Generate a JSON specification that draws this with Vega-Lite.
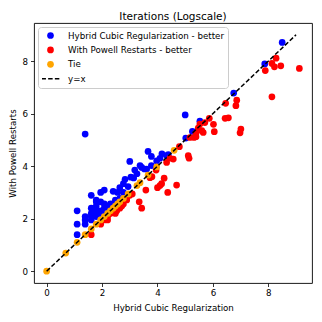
{
  "$schema": "https://vega.github.io/schema/vega-lite/v6.json",
  "autosize": "none",
  "width": 278,
  "height": 260,
  "padding": {"left": 34, "top": 23, "right": 10, "bottom": 39},
  "background": "white",
  "title": {"text": "Iterations (Logscale)", "fontSize": 10.5, "fontWeight": "normal", "font": "DejaVu Sans", "color": "black", "baseline": "bottom", "offset": 3, "frame": "group", "dy": 12},
  "config": {
    "view": {"stroke": "black", "strokeWidth": 0.9},
    "axis": {"domain": false, "grid": false, "ticks": true, "tickSize": 3.5, "tickColor": "black", "tickWidth": 0.8, "labelFont": "DejaVu Sans", "labelFontSize": 8.7, "labelColor": "black", "titleFont": "DejaVu Sans", "titleFontSize": 8.7, "titleFontWeight": "normal", "titleColor": "black"},
    "legend": {"labelFont": "DejaVu Sans", "labelFontSize": 8.7, "labelColor": "black"}
  },
  "datasets": {
    "points": [
      {"hybrid": 1.10, "powell": 1.39, "result": "Hybrid Cubic Regularization - better"},
      {"hybrid": 1.10, "powell": 1.79, "result": "Hybrid Cubic Regularization - better"},
      {"hybrid": 1.10, "powell": 2.30, "result": "Hybrid Cubic Regularization - better"},
      {"hybrid": 1.39, "powell": 1.79, "result": "Hybrid Cubic Regularization - better"},
      {"hybrid": 1.39, "powell": 1.95, "result": "Hybrid Cubic Regularization - better"},
      {"hybrid": 1.39, "powell": 2.08, "result": "Hybrid Cubic Regularization - better"},
      {"hybrid": 1.39, "powell": 5.22, "result": "Hybrid Cubic Regularization - better"},
      {"hybrid": 1.61, "powell": 1.95, "result": "Hybrid Cubic Regularization - better"},
      {"hybrid": 1.61, "powell": 2.08, "result": "Hybrid Cubic Regularization - better"},
      {"hybrid": 1.61, "powell": 2.20, "result": "Hybrid Cubic Regularization - better"},
      {"hybrid": 1.61, "powell": 2.40, "result": "Hybrid Cubic Regularization - better"},
      {"hybrid": 1.61, "powell": 2.89, "result": "Hybrid Cubic Regularization - better"},
      {"hybrid": 1.79, "powell": 2.08, "result": "Hybrid Cubic Regularization - better"},
      {"hybrid": 1.79, "powell": 2.20, "result": "Hybrid Cubic Regularization - better"},
      {"hybrid": 1.79, "powell": 2.30, "result": "Hybrid Cubic Regularization - better"},
      {"hybrid": 1.79, "powell": 2.48, "result": "Hybrid Cubic Regularization - better"},
      {"hybrid": 1.79, "powell": 2.64, "result": "Hybrid Cubic Regularization - better"},
      {"hybrid": 1.79, "powell": 2.71, "result": "Hybrid Cubic Regularization - better"},
      {"hybrid": 1.95, "powell": 2.20, "result": "Hybrid Cubic Regularization - better"},
      {"hybrid": 1.95, "powell": 2.30, "result": "Hybrid Cubic Regularization - better"},
      {"hybrid": 1.95, "powell": 2.64, "result": "Hybrid Cubic Regularization - better"},
      {"hybrid": 1.95, "powell": 3.00, "result": "Hybrid Cubic Regularization - better"},
      {"hybrid": 2.08, "powell": 2.20, "result": "Hybrid Cubic Regularization - better"},
      {"hybrid": 2.08, "powell": 2.40, "result": "Hybrid Cubic Regularization - better"},
      {"hybrid": 2.08, "powell": 2.56, "result": "Hybrid Cubic Regularization - better"},
      {"hybrid": 2.08, "powell": 3.09, "result": "Hybrid Cubic Regularization - better"},
      {"hybrid": 2.20, "powell": 2.30, "result": "Hybrid Cubic Regularization - better"},
      {"hybrid": 2.20, "powell": 2.48, "result": "Hybrid Cubic Regularization - better"},
      {"hybrid": 2.30, "powell": 2.40, "result": "Hybrid Cubic Regularization - better"},
      {"hybrid": 2.30, "powell": 2.56, "result": "Hybrid Cubic Regularization - better"},
      {"hybrid": 2.40, "powell": 2.56, "result": "Hybrid Cubic Regularization - better"},
      {"hybrid": 2.40, "powell": 3.04, "result": "Hybrid Cubic Regularization - better"},
      {"hybrid": 2.48, "powell": 2.64, "result": "Hybrid Cubic Regularization - better"},
      {"hybrid": 2.48, "powell": 2.71, "result": "Hybrid Cubic Regularization - better"},
      {"hybrid": 2.56, "powell": 3.00, "result": "Hybrid Cubic Regularization - better"},
      {"hybrid": 2.64, "powell": 2.77, "result": "Hybrid Cubic Regularization - better"},
      {"hybrid": 2.64, "powell": 3.18, "result": "Hybrid Cubic Regularization - better"},
      {"hybrid": 2.77, "powell": 3.00, "result": "Hybrid Cubic Regularization - better"},
      {"hybrid": 2.77, "powell": 3.33, "result": "Hybrid Cubic Regularization - better"},
      {"hybrid": 2.83, "powell": 3.50, "result": "Hybrid Cubic Regularization - better"},
      {"hybrid": 2.94, "powell": 3.22, "result": "Hybrid Cubic Regularization - better"},
      {"hybrid": 3.00, "powell": 4.18, "result": "Hybrid Cubic Regularization - better"},
      {"hybrid": 3.04, "powell": 3.58, "result": "Hybrid Cubic Regularization - better"},
      {"hybrid": 3.14, "powell": 3.55, "result": "Hybrid Cubic Regularization - better"},
      {"hybrid": 3.18, "powell": 3.85, "result": "Hybrid Cubic Regularization - better"},
      {"hybrid": 3.26, "powell": 3.71, "result": "Hybrid Cubic Regularization - better"},
      {"hybrid": 3.37, "powell": 4.02, "result": "Hybrid Cubic Regularization - better"},
      {"hybrid": 3.43, "powell": 3.95, "result": "Hybrid Cubic Regularization - better"},
      {"hybrid": 3.53, "powell": 3.89, "result": "Hybrid Cubic Regularization - better"},
      {"hybrid": 3.61, "powell": 3.89, "result": "Hybrid Cubic Regularization - better"},
      {"hybrid": 3.66, "powell": 4.56, "result": "Hybrid Cubic Regularization - better"},
      {"hybrid": 3.78, "powell": 4.37, "result": "Hybrid Cubic Regularization - better"},
      {"hybrid": 3.78, "powell": 4.02, "result": "Hybrid Cubic Regularization - better"},
      {"hybrid": 3.97, "powell": 4.20, "result": "Hybrid Cubic Regularization - better"},
      {"hybrid": 4.09, "powell": 4.30, "result": "Hybrid Cubic Regularization - better"},
      {"hybrid": 4.16, "powell": 4.47, "result": "Hybrid Cubic Regularization - better"},
      {"hybrid": 4.33, "powell": 4.40, "result": "Hybrid Cubic Regularization - better"},
      {"hybrid": 4.39, "powell": 4.44, "result": "Hybrid Cubic Regularization - better"},
      {"hybrid": 5.00, "powell": 5.95, "result": "Hybrid Cubic Regularization - better"},
      {"hybrid": 5.02, "powell": 5.07, "result": "Hybrid Cubic Regularization - better"},
      {"hybrid": 5.26, "powell": 5.32, "result": "Hybrid Cubic Regularization - better"},
      {"hybrid": 5.53, "powell": 5.71, "result": "Hybrid Cubic Regularization - better"},
      {"hybrid": 6.75, "powell": 6.78, "result": "Hybrid Cubic Regularization - better"},
      {"hybrid": 7.87, "powell": 7.89, "result": "Hybrid Cubic Regularization - better"},
      {"hybrid": 8.50, "powell": 8.71, "result": "Hybrid Cubic Regularization - better"},
      {"hybrid": 1.61, "powell": 1.39, "result": "With Powell Restarts - better"},
      {"hybrid": 1.95, "powell": 1.79, "result": "With Powell Restarts - better"},
      {"hybrid": 2.08, "powell": 1.95, "result": "With Powell Restarts - better"},
      {"hybrid": 2.20, "powell": 1.95, "result": "With Powell Restarts - better"},
      {"hybrid": 2.20, "powell": 2.08, "result": "With Powell Restarts - better"},
      {"hybrid": 2.30, "powell": 2.20, "result": "With Powell Restarts - better"},
      {"hybrid": 2.40, "powell": 2.30, "result": "With Powell Restarts - better"},
      {"hybrid": 2.48, "powell": 2.20, "result": "With Powell Restarts - better"},
      {"hybrid": 2.53, "powell": 2.30, "result": "With Powell Restarts - better"},
      {"hybrid": 2.56, "powell": 2.48, "result": "With Powell Restarts - better"},
      {"hybrid": 2.64, "powell": 2.40, "result": "With Powell Restarts - better"},
      {"hybrid": 2.71, "powell": 2.48, "result": "With Powell Restarts - better"},
      {"hybrid": 2.77, "powell": 2.56, "result": "With Powell Restarts - better"},
      {"hybrid": 2.89, "powell": 2.71, "result": "With Powell Restarts - better"},
      {"hybrid": 2.89, "powell": 2.77, "result": "With Powell Restarts - better"},
      {"hybrid": 3.00, "powell": 2.89, "result": "With Powell Restarts - better"},
      {"hybrid": 3.09, "powell": 2.94, "result": "With Powell Restarts - better"},
      {"hybrid": 3.34, "powell": 2.64, "result": "With Powell Restarts - better"},
      {"hybrid": 3.43, "powell": 2.40, "result": "With Powell Restarts - better"},
      {"hybrid": 3.58, "powell": 3.09, "result": "With Powell Restarts - better"},
      {"hybrid": 3.73, "powell": 3.56, "result": "With Powell Restarts - better"},
      {"hybrid": 3.80, "powell": 3.60, "result": "With Powell Restarts - better"},
      {"hybrid": 3.95, "powell": 3.85, "result": "With Powell Restarts - better"},
      {"hybrid": 4.00, "powell": 3.18, "result": "With Powell Restarts - better"},
      {"hybrid": 4.09, "powell": 3.26, "result": "With Powell Restarts - better"},
      {"hybrid": 4.15, "powell": 3.33, "result": "With Powell Restarts - better"},
      {"hybrid": 4.24, "powell": 3.54, "result": "With Powell Restarts - better"},
      {"hybrid": 4.37, "powell": 3.00, "result": "With Powell Restarts - better"},
      {"hybrid": 4.69, "powell": 3.28, "result": "With Powell Restarts - better"},
      {"hybrid": 4.33, "powell": 4.14, "result": "With Powell Restarts - better"},
      {"hybrid": 4.45, "powell": 4.30, "result": "With Powell Restarts - better"},
      {"hybrid": 4.57, "powell": 4.27, "result": "With Powell Restarts - better"},
      {"hybrid": 4.79, "powell": 4.74, "result": "With Powell Restarts - better"},
      {"hybrid": 5.11, "powell": 4.40, "result": "With Powell Restarts - better"},
      {"hybrid": 5.14, "powell": 4.30, "result": "With Powell Restarts - better"},
      {"hybrid": 5.17, "powell": 5.09, "result": "With Powell Restarts - better"},
      {"hybrid": 5.32, "powell": 5.09, "result": "With Powell Restarts - better"},
      {"hybrid": 5.39, "powell": 5.12, "result": "With Powell Restarts - better"},
      {"hybrid": 5.39, "powell": 5.26, "result": "With Powell Restarts - better"},
      {"hybrid": 5.47, "powell": 5.45, "result": "With Powell Restarts - better"},
      {"hybrid": 5.53, "powell": 5.60, "result": "With Powell Restarts - better"},
      {"hybrid": 5.60, "powell": 5.35, "result": "With Powell Restarts - better"},
      {"hybrid": 5.65, "powell": 5.28, "result": "With Powell Restarts - better"},
      {"hybrid": 5.71, "powell": 5.66, "result": "With Powell Restarts - better"},
      {"hybrid": 5.87, "powell": 5.82, "result": "With Powell Restarts - better"},
      {"hybrid": 6.02, "powell": 5.59, "result": "With Powell Restarts - better"},
      {"hybrid": 6.05, "powell": 5.31, "result": "With Powell Restarts - better"},
      {"hybrid": 6.44, "powell": 5.82, "result": "With Powell Restarts - better"},
      {"hybrid": 6.56, "powell": 5.84, "result": "With Powell Restarts - better"},
      {"hybrid": 6.46, "powell": 6.39, "result": "With Powell Restarts - better"},
      {"hybrid": 6.83, "powell": 6.30, "result": "With Powell Restarts - better"},
      {"hybrid": 6.86, "powell": 6.51, "result": "With Powell Restarts - better"},
      {"hybrid": 6.98, "powell": 5.27, "result": "With Powell Restarts - better"},
      {"hybrid": 7.01, "powell": 5.41, "result": "With Powell Restarts - better"},
      {"hybrid": 7.89, "powell": 7.64, "result": "With Powell Restarts - better"},
      {"hybrid": 8.13, "powell": 7.91, "result": "With Powell Restarts - better"},
      {"hybrid": 8.22, "powell": 7.78, "result": "With Powell Restarts - better"},
      {"hybrid": 8.28, "powell": 8.11, "result": "With Powell Restarts - better"},
      {"hybrid": 8.45, "powell": 7.82, "result": "With Powell Restarts - better"},
      {"hybrid": 8.13, "powell": 6.64, "result": "With Powell Restarts - better"},
      {"hybrid": 9.12, "powell": 7.72, "result": "With Powell Restarts - better"},
      {"hybrid": 0.00, "powell": 0.00, "result": "Tie"},
      {"hybrid": 0.69, "powell": 0.69, "result": "Tie"},
      {"hybrid": 1.10, "powell": 1.10, "result": "Tie"},
      {"hybrid": 1.39, "powell": 1.39, "result": "Tie"},
      {"hybrid": 1.61, "powell": 1.61, "result": "Tie"},
      {"hybrid": 1.79, "powell": 1.79, "result": "Tie"},
      {"hybrid": 1.95, "powell": 1.95, "result": "Tie"},
      {"hybrid": 2.08, "powell": 2.08, "result": "Tie"},
      {"hybrid": 2.20, "powell": 2.20, "result": "Tie"},
      {"hybrid": 2.30, "powell": 2.30, "result": "Tie"},
      {"hybrid": 2.40, "powell": 2.40, "result": "Tie"},
      {"hybrid": 2.48, "powell": 2.48, "result": "Tie"},
      {"hybrid": 2.56, "powell": 2.56, "result": "Tie"},
      {"hybrid": 2.64, "powell": 2.64, "result": "Tie"},
      {"hybrid": 2.77, "powell": 2.77, "result": "Tie"},
      {"hybrid": 2.94, "powell": 2.94, "result": "Tie"},
      {"hybrid": 3.26, "powell": 3.26, "result": "Tie"},
      {"hybrid": 3.37, "powell": 3.37, "result": "Tie"},
      {"hybrid": 3.66, "powell": 3.66, "result": "Tie"},
      {"hybrid": 3.97, "powell": 3.97, "result": "Tie"},
      {"hybrid": 4.60, "powell": 4.60, "result": "Tie"}
    ],
    "line": [
      {"hybrid": 0, "powell": 0},
      {"hybrid": 9, "powell": 9}
    ]
  },
  "layer": [
    {
      "data": {"name": "points"},
      "mark": {"type": "point", "filled": true, "opacity": 1, "size": 45},
      "encoding": {
        "x": {"field": "hybrid", "type": "quantitative", "title": "Hybrid Cubic Regularization", "scale": {"domain": [-0.456, 9.576], "nice": false, "zero": false}, "axis": {"values": [0, 2, 4, 6, 8], "labelPadding": 2, "titlePadding": 6}},
        "y": {"field": "powell", "type": "quantitative", "title": "With Powell Restarts", "scale": {"domain": [-0.45, 9.45], "nice": false, "zero": false}, "axis": {"values": [0, 2, 4, 6, 8], "labelPadding": 3, "titlePadding": 4}},
        "color": {"field": "result", "type": "nominal", "scale": {"domain": ["Hybrid Cubic Regularization - better", "With Powell Restarts - better", "Tie", "y=x"], "range": ["#0000ff", "#ff0000", "#ffa500", "#000000"]},
          "legend": {"title": null, "orient": "top-left", "offset": 4, "padding": 4, "rowPadding": 4.4, "clipHeight": 9, "fillColor": "white", "strokeColor": "#cccccc", "cornerRadius": 3, "labelOffset": 13, "symbolOffset": 4, "symbolSize": 45, "symbolOpacity": 1,
            "encode": {"symbols": {"update": {"shape": {"signal": "datum.value === 'y=x' ? 'M-2.7,0H2.7' : 'circle'"}, "stroke": {"signal": "datum.value === 'y=x' ? 'black' : 'transparent'"}, "strokeWidth": {"value": 1.5}, "strokeDash": {"signal": "datum.value === 'y=x' ? [4.5, 2.2] : [1, 0]"}}}}}}
      }
    },
    {
      "data": {"name": "line"},
      "mark": {"type": "line", "color": "black", "strokeWidth": 1.5, "strokeDash": [4.5, 2.2]},
      "encoding": {
        "x": {"field": "hybrid", "type": "quantitative"},
        "y": {"field": "powell", "type": "quantitative"}
      }
    }
  ]
}
